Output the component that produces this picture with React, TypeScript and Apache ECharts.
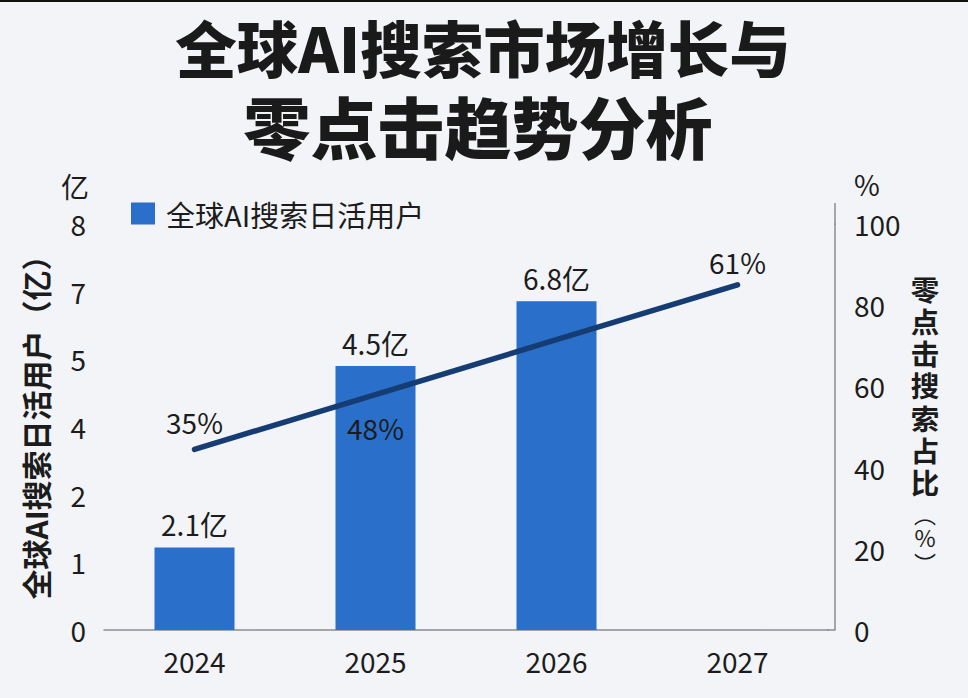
import React, { useEffect, useRef } from "react";
import * as echarts from "echarts";

const YEARS = ["2024", "2025", "2026", "2027"];
// bar heights in left-axis tick steps (the axis ticks are evenly spaced)
const USER_BAR_HEIGHTS: (number | null)[] = [1.22, 3.9, 4.86, null];
const USER_LABELS = ["2.1亿", "4.5亿", "6.8亿", ""];
const LEFT_TICK_LABELS = ["0", "1", "2", "4", "5", "7", "8"];
const ZERO_CLICK_SHARE = [44.5, 58, 71.5, 85];
const ZERO_CLICK_LABELS = ["35%", "48%", "", "61%"];
const ZERO_CLICK_LABEL_POS = ["top", "bottom", "top", "top"];
const ZERO_CLICK_LABEL_DIST = [13, 19, 9, 9];

const TITLE_LINES = ["全球AI搜索市场增长与", "零点击趋势分析"];
const BAR_NAME = "全球AI搜索日活用户";
const LINE_NAME = "零点击搜索占比";
const RIGHT_TITLE_CHARS = ["零", "点", "击", "搜", "索", "占", "比"];

const FONT = "'Noto Sans CJK SC', 'Noto Sans', sans-serif";
const TEXT = "#1c1c1c";
const BAR_COLOR = "#2a6fca";
const LINE_COLOR = "#163d73";
const AXIS_COLOR = "#8a8d92";

export default function App() {
  const ref = useRef<HTMLDivElement>(null);
  useEffect(() => {
    if (!ref.current) return;
    const chart = echarts.init(ref.current, undefined, { renderer: "svg" });
    const rightTitle = RIGHT_TITLE_CHARS.map((c, i) => ({
      type: "text",
      x: 925,
      y: 288 + i * 32.3,
      style: {
        text: c,
        fontSize: 28.5,
        fontWeight: "bold",
        fontFamily: FONT,
        fill: TEXT,
        align: "center",
        verticalAlign: "middle",
      },
    }));
    chart.setOption({
      animation: false,
      backgroundColor: "#f2f4f7",
      textStyle: { fontFamily: FONT },
      grid: { left: 104, right: 140, top: 224, bottom: 68 },
      legend: {
        data: [BAR_NAME],
        left: 126,
        top: 194,
        icon: "rect",
        itemWidth: 24,
        itemHeight: 22,
        textStyle: { fontSize: 29, color: TEXT, fontFamily: FONT, padding: [0, 0, 0, 6] },
      },
      xAxis: {
        type: "category",
        data: YEARS,
        axisLine: { show: true, lineStyle: { color: AXIS_COLOR, width: 1.5 } },
        axisTick: { show: false },
        axisLabel: { fontSize: 28, color: TEXT, margin: 17, fontFamily: FONT },
      },
      yAxis: [
        {
          type: "value",
          min: 0,
          max: 6,
          interval: 1,
          axisLine: { show: false },
          axisTick: { show: false },
          splitLine: { show: false },
          axisLabel: {
            fontSize: 28,
            color: TEXT,
            margin: 18,
            fontFamily: FONT,
            formatter: (v: number) => LEFT_TICK_LABELS[Math.round(v)] ?? "",
          },
        },
        {
          type: "value",
          min: 0,
          max: 100,
          interval: 20,
          position: "right",
          offset: 7,
          axisLine: { show: true, lineStyle: { color: AXIS_COLOR, width: 1.5 } },
          axisTick: { show: false },
          splitLine: { show: false },
          axisLabel: { fontSize: 28, color: TEXT, margin: 19, fontFamily: FONT },
        },
      ],
      series: [
        {
          name: BAR_NAME,
          type: "bar",
          yAxisIndex: 0,
          barWidth: 80,
          itemStyle: { color: BAR_COLOR },
          data: USER_BAR_HEIGHTS.map((v) => (v == null ? "-" : v)),
          label: {
            show: true,
            position: "top",
            distance: 9,
            fontSize: 28,
            color: TEXT,
            fontFamily: FONT,
            formatter: (p: any) => USER_LABELS[p.dataIndex],
          },
          z: 2,
        },
        {
          name: LINE_NAME,
          type: "line",
          yAxisIndex: 1,
          symbol: "circle",
          symbolSize: 0,
          showSymbol: true,
          lineStyle: { color: LINE_COLOR, width: 5.5, cap: "round" },
          itemStyle: { color: LINE_COLOR },
          data: ZERO_CLICK_SHARE.map((v, i) => ({
            value: v,
            label: {
              show: ZERO_CLICK_LABELS[i] !== "",
              position: ZERO_CLICK_LABEL_POS[i],
              distance: ZERO_CLICK_LABEL_DIST[i],
            },
          })),
          label: {
            fontSize: 28,
            color: TEXT,
            fontFamily: FONT,
            formatter: (p: any) => ZERO_CLICK_LABELS[p.dataIndex],
          },
          z: 3,
        },
      ],
      graphic: [
        { type: "rect", shape: { x: 0, y: 0, width: 968, height: 2 }, style: { fill: "#111" } },
        {
          type: "text",
          x: 483,
          y: 46,
          style: {
            text: TITLE_LINES[0],
            fontSize: 61.5,
            fontWeight: 900,
            fontFamily: FONT,
            fill: "#1a1a1a",
            align: "center",
            verticalAlign: "middle",
          },
        },
        {
          type: "text",
          x: 478,
          y: 124,
          style: {
            text: TITLE_LINES[1],
            fontSize: 67,
            fontWeight: 900,
            fontFamily: FONT,
            fill: "#1a1a1a",
            align: "center",
            verticalAlign: "middle",
          },
        },
        {
          type: "text",
          x: 75,
          y: 186,
          style: { text: "亿", fontSize: 28, fontFamily: FONT, fill: TEXT, align: "center", verticalAlign: "middle" },
        },
        {
          type: "text",
          x: 867,
          y: 184,
          style: { text: "%", fontSize: 28, fontFamily: FONT, fill: TEXT, align: "center", verticalAlign: "middle" },
        },
        {
          type: "text",
          x: 35,
          y: 420,
          rotation: Math.PI / 2,
          style: {
            text: "全球AI搜索日活用户（亿）",
            fontSize: 30,
            fontWeight: "bold",
            fontFamily: FONT,
            fill: TEXT,
            align: "center",
            verticalAlign: "middle",
          },
        },
        ...rightTitle,
        {
          type: "text",
          x: 925,
          y: 513,
          style: { text: "︵", fontSize: 22, fontFamily: FONT, fill: TEXT, align: "center", verticalAlign: "middle" },
        },
        {
          type: "text",
          x: 925,
          y: 537,
          style: { text: "%", fontSize: 23, fontFamily: FONT, fill: TEXT, align: "center", verticalAlign: "middle" },
        },
        {
          type: "text",
          x: 925,
          y: 562,
          style: { text: "︶", fontSize: 22, fontFamily: FONT, fill: TEXT, align: "center", verticalAlign: "middle" },
        },
        {
          type: "line",
          shape: { x1: 835, y1: 203, x2: 835, y2: 225 },
          style: { stroke: AXIS_COLOR, lineWidth: 1.5 },
        },
        {
          type: "line",
          shape: { x1: 827, y1: 630, x2: 835, y2: 630 },
          style: { stroke: AXIS_COLOR, lineWidth: 1.5 },
        },
      ],
    });
    return () => chart.dispose();
  }, []);
  return (
    <div
      ref={ref}
      style={{ position: "absolute", left: 0, top: 0, width: 968, height: 698 }}
    />
  );
}
